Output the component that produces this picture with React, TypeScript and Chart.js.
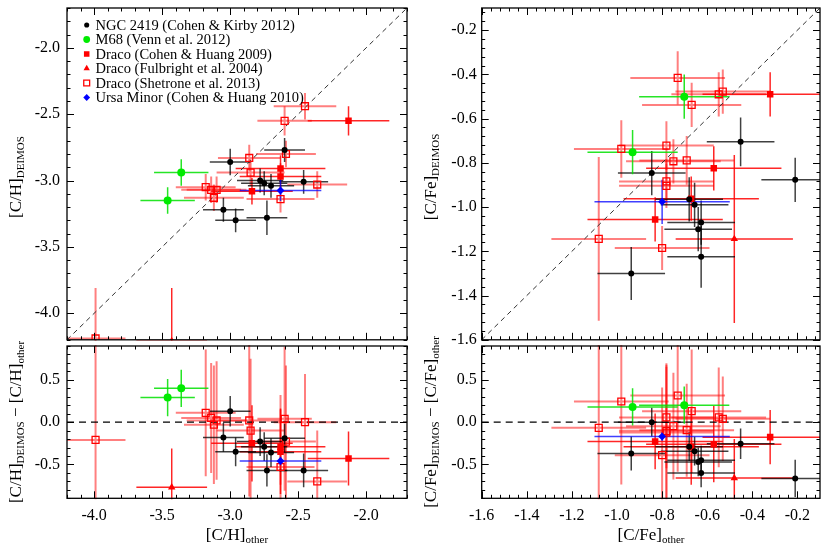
import React, { useEffect, useRef } from 'react';
import { Chart, registerables } from 'chart.js';

Chart.register(...registerables);

const SERIF = '"Liberation Serif", "DejaVu Serif", serif';

// Each row: [other, otherErr, deimos, deimosErr, deimos - other, diffErr]
// ---- [C/H] ----
const ngc2419CH = [
  [-3.00, 0.15, -2.86, 0.10, 0.13, 0.18],
  [-2.60, 0.15, -2.77, 0.09, -0.19, 0.17],
  [-2.78, 0.17, -3.00, 0.09, -0.23, 0.17],
  [-2.75, 0.17, -3.02, 0.09, -0.29, 0.17],
  [-2.70, 0.17, -3.04, 0.09, -0.36, 0.17],
  [-2.46, 0.18, -3.01, 0.09, -0.57, 0.20],
  [-3.05, 0.15, -3.22, 0.09, -0.18, 0.17],
  [-2.96, 0.15, -3.30, 0.09, -0.35, 0.17],
  [-2.73, 0.15, -3.28, 0.13, -0.57, 0.19],
];
const m68CH = [
  [-3.36, 0.20, -2.94, 0.10, 0.40, 0.22],
  [-3.46, 0.20, -3.15, 0.10, 0.29, 0.22],
];
const dracoCH09CH = [
  [-2.13, 0.30, -2.55, 0.11, -0.43, 0.32],
  [-2.63, 0.33, -2.91, 0.10, -0.29, 0.45],
  [-2.63, 0.30, -2.97, 0.10, -0.35, 0.50],
  [-2.84, 0.30, -3.08, 0.10, -0.25, 0.45],
];
const dracoF04CH = [
  [-3.43, 0.26, -4.21, 0.40, -0.77, 0.46],
];
const dracoS13CH = [
  [-2.45, 0.23, -2.44, 0.10, 0.00, 0.57],
  [-2.60, 0.20, -2.55, 0.11, 0.04, 0.85],
  [-2.59, 0.22, -2.80, 0.10, -0.23, 0.90],
  [-2.86, 0.23, -2.83, 0.10, 0.02, 0.90],
  [-2.85, 0.25, -2.94, 0.10, -0.10, 0.85],
  [-3.18, 0.22, -3.05, 0.10, 0.11, 0.75],
  [-3.14, 0.22, -3.07, 0.10, 0.05, 0.65],
  [-3.10, 0.22, -3.07, 0.10, 0.02, 0.70],
  [-3.12, 0.22, -3.13, 0.10, -0.03, 0.70],
  [-2.36, 0.22, -3.03, 0.10, -0.70, 0.60],
  [-2.63, 0.25, -3.14, 0.10, -0.53, 0.85],
  [-3.99, 0.22, -4.19, 0.38, -0.21, 1.20],
];
const umiCH = [
  [-2.63, 0.30, -3.075, 0.08, -0.46, 0.05],
];

// ---- [C/Fe] ----
const ngc2419CFe = [
  [-0.452, 0.15, -0.705, 0.11, -0.256, 0.18],
  [-0.846, 0.15, -0.846, 0.10, 0.00, 0.17],
  [-0.210, 0.15, -0.877, 0.10, -0.665, 0.22],
  [-0.656, 0.15, -0.990, 0.10, -0.343, 0.17],
  [-0.680, 0.15, -0.965, 0.10, -0.29, 0.17],
  [-0.627, 0.15, -1.070, 0.10, -0.45, 0.17],
  [-0.640, 0.15, -1.100, 0.10, -0.47, 0.17],
  [-0.627, 0.15, -1.225, 0.14, -0.60, 0.17],
  [-0.937, 0.15, -1.300, 0.12, -0.37, 0.20],
];
const m68CFe = [
  [-0.702, 0.20, -0.501, 0.10, 0.20, 0.22],
  [-0.931, 0.20, -0.752, 0.10, 0.18, 0.22],
];
const dracoCH09CFe = [
  [-0.321, 0.30, -0.490, 0.10, -0.177, 0.32],
  [-0.571, 0.30, -0.825, 0.10, -0.26, 0.45],
  [-0.671, 0.30, -0.962, 0.10, -0.29, 0.45],
  [-0.831, 0.30, -1.056, 0.10, -0.228, 0.33],
];
const dracoF04CFe = [
  [-0.48, 0.26, -1.144, 0.38, -0.66, 0.46],
];
const dracoS13CFe = [
  [-0.731, 0.21, -0.416, 0.12, 0.315, 0.90],
  [-0.549, 0.21, -0.490, 0.10, 0.056, 0.59],
  [-0.531, 0.21, -0.478, 0.10, 0.040, 0.50],
  [-0.669, 0.22, -0.538, 0.10, 0.130, 0.73],
  [-0.981, 0.21, -0.737, 0.13, 0.244, 0.98],
  [-0.781, 0.21, -0.722, 0.11, 0.056, 0.60],
  [-0.750, 0.21, -0.793, 0.10, -0.047, 0.63],
  [-0.691, 0.21, -0.789, 0.11, -0.095, 0.55],
  [-0.781, 0.21, -0.884, 0.10, -0.103, 0.80],
  [-0.781, 0.21, -0.904, 0.10, -0.123, 0.80],
  [-1.081, 0.21, -1.144, 0.37, -0.067, 1.00],
  [-0.800, 0.21, -1.185, 0.10, -0.390, 0.80],
];
const umiCFe = [
  [-0.80, 0.30, -0.976, 0.10, -0.17, 0.05],
];

// axes
const chRange = [-4.2, -1.7];
const cfeRange = [-1.6, -0.1];
const diffRange = [-0.9, 0.9];
const chTicks = [-4.0, -3.5, -3.0, -2.5, -2.0];
const cfeTicks = [-1.6, -1.4, -1.2, -1.0, -0.8, -0.6, -0.4, -0.2];
const diffTicks = [-0.5, 0.0, 0.5];
const chMinor = 0.1;
const cfeMinor = 0.04;
const diffMinor = 0.1;

const legendLabels = [
  'NGC 2419 (Cohen & Kirby 2012)',
  'M68 (Venn et al. 2012)',
  'Draco (Cohen & Huang 2009)',
  'Draco (Fulbright et al. 2004)',
  'Draco (Shetrone et al. 2013)',
  'Ursa Minor (Cohen & Huang 2010)',
];

interface Group {
  label: string; ch: number[][]; cfe: number[][];
  shape: string; radius: number; fill: string; stroke: string; bw: number;
  bar: string; barW: number;
}

const groups: Group[] = [
  { label: legendLabels[0], ch: ngc2419CH, cfe: ngc2419CFe, shape: 'circle', radius: 3, fill: '#000', stroke: '#000', bw: 0, bar: 'rgba(0,0,0,0.75)', barW: 1.5 },
  { label: legendLabels[1], ch: m68CH, cfe: m68CFe, shape: 'circle', radius: 4, fill: 'rgb(0,235,0)', stroke: 'rgb(0,235,0)', bw: 0, bar: 'rgba(0,225,0,0.85)', barW: 1.5 },
  { label: legendLabels[2], ch: dracoCH09CH, cfe: dracoCH09CFe, shape: 'rect', radius: 4.6, fill: 'rgb(255,0,0)', stroke: 'rgb(255,0,0)', bw: 0, bar: 'rgba(255,0,0,0.85)', barW: 1.5 },
  { label: legendLabels[3], ch: dracoF04CH, cfe: dracoF04CFe, shape: 'triangle', radius: 4.3, fill: 'rgb(255,0,0)', stroke: 'rgb(255,0,0)', bw: 0, bar: 'rgba(255,0,0,0.85)', barW: 1.5 },
  { label: legendLabels[4], ch: dracoS13CH, cfe: dracoS13CFe, shape: 'rect', radius: 4.9, fill: 'rgba(0,0,0,0)', stroke: 'rgb(255,0,0)', bw: 1.3, bar: 'rgba(255,0,0,0.5)', barW: 2 },
  { label: legendLabels[5], ch: umiCH, cfe: umiCFe, shape: 'rectRot', radius: 4, fill: 'rgb(0,0,255)', stroke: 'rgb(0,0,255)', bw: 0, bar: 'rgba(0,0,255,0.75)', barW: 1.5 },
];
const drawOrder = [4, 2, 3, 0, 1, 5];

// ---------- plugins ----------
const errorBarPlugin = {
  id: 'errbars',
  beforeDatasetsDraw(chart: any) {
    const { ctx, chartArea: a, scales } = chart;
    const xs = scales.x, ys = scales.y;
    ctx.save();
    ctx.beginPath();
    ctx.rect(a.left, a.top - 1, a.right - a.left, a.bottom - a.top + 2);
    ctx.clip();
    chart.data.datasets.forEach((ds: any) => {
      if (!ds.errX) return;
      ctx.strokeStyle = ds.barColor;
      ctx.lineWidth = ds.barWidth;
      ds.data.forEach((p: any, i: number) => {
        const px = xs.getPixelForValue(p.x);
        const py = ys.getPixelForValue(p.y);
        ctx.beginPath();
        ctx.moveTo(xs.getPixelForValue(p.x - ds.errX[i]), py);
        ctx.lineTo(xs.getPixelForValue(p.x + ds.errX[i]), py);
        ctx.moveTo(px, ys.getPixelForValue(p.y - ds.errY[i]));
        ctx.lineTo(px, ys.getPixelForValue(p.y + ds.errY[i]));
        ctx.stroke();
      });
    });
    ctx.restore();
  },
};

function minorValues(range: number[], step: number) {
  const out: number[] = [];
  const n = Math.floor((range[1] - range[0]) / step + 1e-6);
  for (let k = 0; k <= n; k++) out.push(range[0] + k * step);
  return out;
}

const framePlugin = {
  id: 'frame',
  afterDatasetsDraw(chart: any, _args: any, opts: any) {
    const { ctx, chartArea: a, scales } = chart;
    const xs = scales.x, ys = scales.y;
    const MAJ = 7, MIN = 3.5;
    ctx.save();
    ctx.strokeStyle = '#000';
    ctx.lineWidth = 1;
    const isMajor = (v: number, arr: number[]) => arr.some((m) => Math.abs(m - v) < 1e-6);
    const xMinor = minorValues(opts.xRange, opts.xMinor);
    const yMinor = minorValues(opts.yRange, opts.yMinor);
    ctx.beginPath();
    xMinor.forEach((v) => {
      const len = isMajor(v, opts.xMajor) ? MAJ : MIN;
      const px = Math.round(xs.getPixelForValue(v)) + 0.5;
      ctx.moveTo(px, a.bottom); ctx.lineTo(px, a.bottom - len);
      ctx.moveTo(px, a.top); ctx.lineTo(px, a.top + len);
    });
    yMinor.forEach((v) => {
      const len = isMajor(v, opts.yMajor) ? MAJ : MIN;
      const py = Math.round(ys.getPixelForValue(v)) + 0.5;
      ctx.moveTo(a.left, py); ctx.lineTo(a.left + len, py);
      ctx.moveTo(a.right, py); ctx.lineTo(a.right - len, py);
    });
    ctx.stroke();
    ctx.lineWidth = 1.3;
    ctx.strokeRect(a.left, a.top, a.right - a.left, a.bottom - a.top);
    ctx.restore();
  },
};

const MAIN_FONT = `17px ${SERIF}`;
const SUB_FONT = `11px ${SERIF}`;

function drawRich(ctx: CanvasRenderingContext2D, segs: [string, boolean][], cx: number, cy: number, rot: boolean) {
  ctx.save();
  ctx.translate(cx, cy);
  if (rot) ctx.rotate(-Math.PI / 2);
  ctx.fillStyle = '#000';
  ctx.textAlign = 'left';
  ctx.textBaseline = 'alphabetic';
  let total = 0;
  const widths = segs.map(([t, sub]) => {
    ctx.font = sub ? SUB_FONT : MAIN_FONT;
    const w = ctx.measureText(t).width;
    total += w;
    return w;
  });
  let x = -total / 2;
  segs.forEach(([t, sub], i) => {
    ctx.font = sub ? SUB_FONT : MAIN_FONT;
    ctx.fillText(t, x, sub ? 3 : 0);
    x += widths[i];
  });
  ctx.restore();
}

const titlePlugin = {
  id: 'richTitles',
  afterDraw(chart: any, _args: any, opts: any) {
    (opts.items || []).forEach((it: any) => drawRich(chart.ctx, it.segs, it.x, it.y, it.rot));
  },
};

function drawMarker(ctx: CanvasRenderingContext2D, g: Group, x: number, y: number, r: number) {
  ctx.beginPath();
  if (g.shape === 'circle') ctx.arc(x, y, r, 0, Math.PI * 2);
  else if (g.shape === 'rect') { const s = r * Math.SQRT1_2; ctx.rect(x - s, y - s, 2 * s, 2 * s); }
  else if (g.shape === 'triangle') {
    for (let k = 0; k < 3; k++) {
      const ang = (k * 2 * Math.PI) / 3;
      const px = x + Math.sin(ang) * r, py = y - Math.cos(ang) * r;
      if (k === 0) ctx.moveTo(px, py); else ctx.lineTo(px, py);
    }
    ctx.closePath();
  } else if (g.shape === 'rectRot') {
    ctx.moveTo(x - r, y); ctx.lineTo(x, y - r); ctx.lineTo(x + r, y); ctx.lineTo(x, y + r); ctx.closePath();
  }
  ctx.fillStyle = g.fill;
  ctx.fill();
  if (g.bw > 0) { ctx.lineWidth = g.bw; ctx.strokeStyle = g.stroke; ctx.stroke(); }
}

const legendPlugin = {
  id: 'insideLegend',
  afterDraw(chart: any, _args: any, opts: any) {
    if (!opts.show) return;
    const ctx = chart.ctx as CanvasRenderingContext2D;
    ctx.save();
    groups.forEach((g, i) => {
      const cy = 25 + i * 14.5;
      drawMarker(ctx, g, 86.7, cy, g.radius * 0.85);
      ctx.fillStyle = '#000';
      ctx.font = `14.5px ${SERIF}`;
      ctx.textAlign = 'left';
      ctx.textBaseline = 'alphabetic';
      ctx.fillText(g.label, 95.5, cy + 4.8);
    });
    ctx.restore();
  },
};

// ---------- panel config ----------
interface PanelSpec {
  col: 'ch' | 'cfe';
  isTop: boolean;
  yWidth: number;
  padTop: number;
  padRight: number;
  xHeight: number;
  titles: any[];
  legend: boolean;
  tickPad: number;
}

function buildConfig(p: PanelSpec): any {
  const xRange = p.col === 'ch' ? chRange : cfeRange;
  const xMajor = p.col === 'ch' ? chTicks : cfeTicks;
  const xMinor = p.col === 'ch' ? chMinor : cfeMinor;
  const yRange = p.isTop ? xRange : diffRange;
  const yMajor = p.isTop ? xMajor : diffTicks;
  const yMinor = p.isTop ? xMinor : diffMinor;

  const datasets: any[] = [];
  drawOrder.forEach((gi, k) => {
    const g = groups[gi];
    const rows = p.col === 'ch' ? g.ch : g.cfe;
    datasets.push({
      label: g.label,
      data: rows.map((r) => ({ x: r[0], y: p.isTop ? r[2] : r[4] })),
      errX: rows.map((r) => r[1]),
      errY: rows.map((r) => (p.isTop ? r[3] : r[5])),
      barColor: g.bar,
      barWidth: g.barW,
      pointStyle: g.shape,
      pointRadius: g.radius,
      backgroundColor: g.fill,
      borderColor: g.stroke,
      borderWidth: g.bw,
      showLine: false,
      order: drawOrder.length - k,
    });
  });
  // reference line: y = x (top) or y = 0 (bottom)
  datasets.push({
    label: 'ref',
    data: p.isTop
      ? [{ x: xRange[0], y: xRange[0] }, { x: xRange[1], y: xRange[1] }]
      : [{ x: xRange[0], y: 0 }, { x: xRange[1], y: 0 }],
    showLine: true,
    borderColor: p.isTop ? '#333' : '#000',
    borderWidth: p.isTop ? 1 : 1.2,
    borderDash: p.isTop ? [5, 4] : [7, 5],
    pointRadius: 0,
    order: 100,
  });

  const fixY = (s: any) => { s.width = p.yWidth; s.paddingTop = 0; s.paddingBottom = 0; s.paddingLeft = 0; s.paddingRight = 0; };
  const fixX = (s: any) => { s.height = p.xHeight; s.paddingLeft = 0; s.paddingRight = 0; s.paddingTop = 0; s.paddingBottom = 0; };
  const fmt = (v: any) => Number(v).toFixed(1);

  return {
    type: 'scatter',
    data: { datasets },
    plugins: [errorBarPlugin, framePlugin, titlePlugin, legendPlugin],
    options: {
      responsive: false,
      animation: false,
      devicePixelRatio: 1,
      events: [],
      layout: { padding: { top: p.padTop, right: p.padRight, left: 0, bottom: 0 } },
      plugins: {
        legend: { display: false },
        tooltip: { enabled: false },
        title: { display: false },
        frame: { xRange, yRange, xMajor, yMajor, xMinor, yMinor },
        richTitles: { items: p.titles },
        insideLegend: { show: p.legend },
      },
      scales: {
        x: {
          type: 'linear',
          min: xRange[0],
          max: xRange[1],
          display: !p.isTop,
          grid: { display: false, drawTicks: false },
          border: { display: false },
          afterBuildTicks: (s: any) => { s.ticks = xMajor.map((v) => ({ value: v })); },
          afterFit: fixX,
          ticks: { padding: 8, color: '#000', font: { family: SERIF, size: 16 }, callback: fmt, maxRotation: 0, autoSkip: false },
        },
        y: {
          type: 'linear',
          min: yRange[0],
          max: yRange[1],
          grid: { display: false, drawTicks: false },
          border: { display: false },
          afterBuildTicks: (s: any) => { s.ticks = yMajor.map((v) => ({ value: v })); },
          afterFit: fixY,
          ticks: { padding: p.tickPad, color: '#000', font: { family: SERIF, size: 16 }, callback: fmt, autoSkip: false },
        },
      },
    },
  };
}

function PanelCanvas(props: { left: number; top: number; width: number; height: number; spec: PanelSpec }) {
  const ref = useRef<HTMLCanvasElement>(null);
  useEffect(() => {
    const chart = new Chart(ref.current as HTMLCanvasElement, buildConfig(props.spec));
    return () => chart.destroy();
  }, []);
  return (
    <canvas
      ref={ref}
      width={props.width}
      height={props.height}
      style={{ position: 'absolute', left: props.left, top: props.top, width: props.width, height: props.height }}
    />
  );
}

const CH_D: [string, boolean][] = [['[C/H]', false], ['DEIMOS', true]];
const CH_O: [string, boolean][] = [['[C/H]', false], ['other', true]];
const CH_DIFF: [string, boolean][] = [['[C/H]', false], ['DEIMOS', true], [' \u2212 [C/H]', false], ['other', true]];
const FE_D: [string, boolean][] = [['[C/Fe]', false], ['DEIMOS', true]];
const FE_O: [string, boolean][] = [['[C/Fe]', false], ['other', true]];
const FE_DIFF: [string, boolean][] = [['[C/Fe]', false], ['DEIMOS', true], [' \u2212 [C/Fe]', false], ['other', true]];

export default function App() {
  const tl: PanelSpec = { col: 'ch', isTop: true, yWidth: 67, padTop: 8, padRight: 13, xHeight: 0, legend: true, tickPad: 7,
    titles: [{ segs: CH_D, x: 21, y: 177, rot: true }] };
  const bl: PanelSpec = { col: 'ch', isTop: false, yWidth: 67, padTop: 56, padRight: 13, xHeight: 55.7, legend: false, tickPad: 7,
    titles: [{ segs: CH_DIFF, x: 21, y: 132, rot: true }, { segs: CH_O, x: 237, y: 249.5, rot: false }] };
  const tr: PanelSpec = { col: 'cfe', isTop: true, yWidth: 61.7, padTop: 8, padRight: 10, xHeight: 0, legend: false, tickPad: 5,
    titles: [{ segs: FE_D, x: 16, y: 177, rot: true }] };
  const br: PanelSpec = { col: 'cfe', isTop: false, yWidth: 61.7, padTop: 56, padRight: 10, xHeight: 55.7, legend: false, tickPad: 5,
    titles: [{ segs: FE_DIFF, x: 16, y: 132, rot: true }, { segs: FE_O, x: 231, y: 249.5, rot: false }] };
  return (
    <div style={{ position: 'absolute', left: 0, top: 0, width: 830, height: 554, background: '#fff', overflow: 'hidden' }}>
      <PanelCanvas left={0} top={0} width={420} height={346} spec={tl} />
      <PanelCanvas left={0} top={290} width={420} height={264} spec={bl} />
      <PanelCanvas left={420} top={0} width={410} height={346} spec={tr} />
      <PanelCanvas left={420} top={290} width={410} height={264} spec={br} />
    </div>
  );
}
